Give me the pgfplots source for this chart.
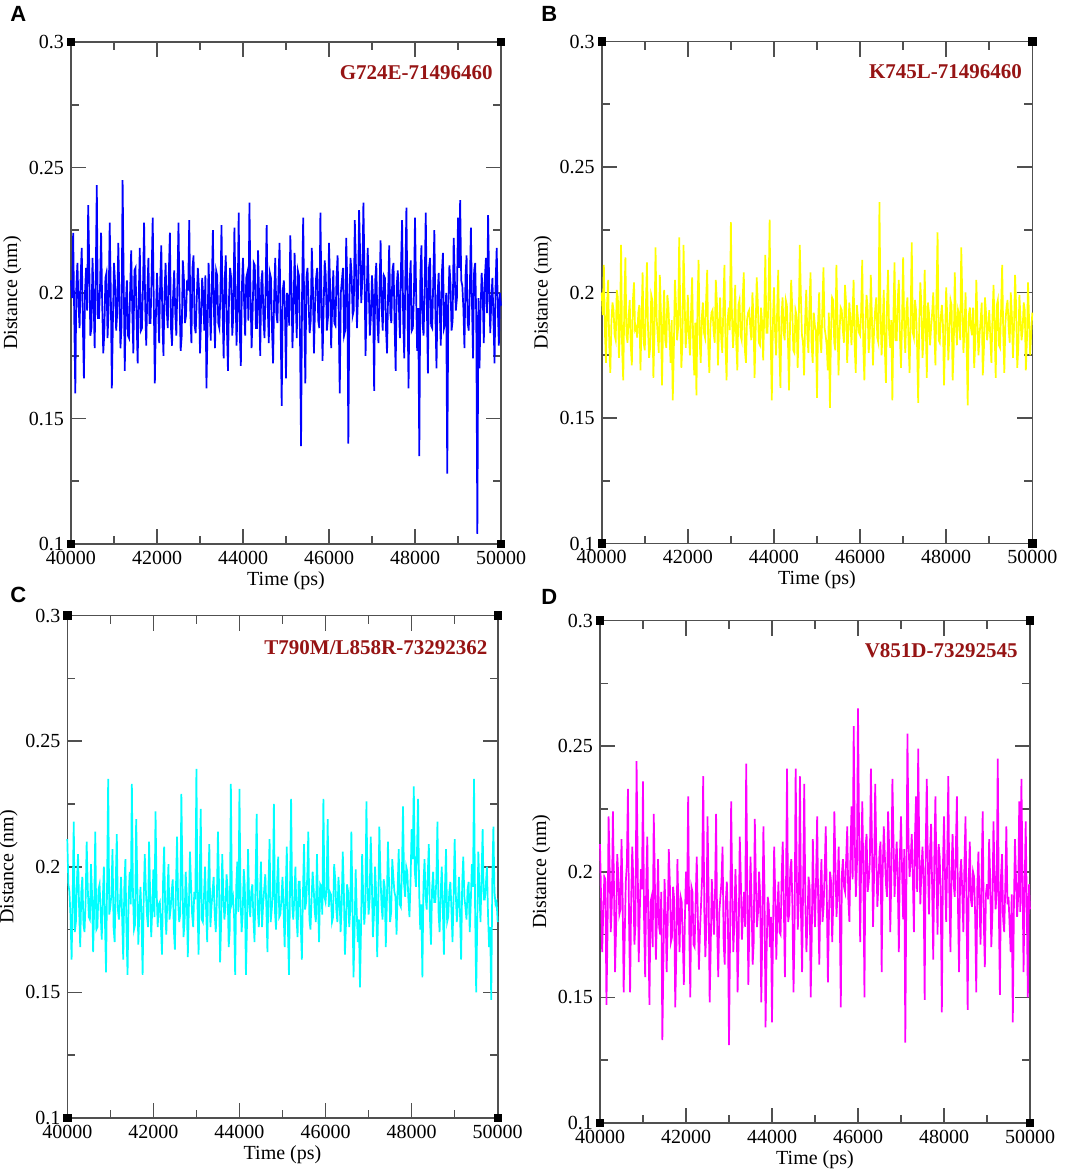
\documentclass[border=0pt]{standalone}
\usepackage{fontspec}
\setmainfont{Liberation Serif}
\newfontfamily\lsans{Liberation Sans}
\usepackage{pgfplots}
\usepackage{pgfplotstable}
\pgfplotsset{compat=1.18}
\definecolor{axgray}{RGB}{80,80,80}
\definecolor{annot}{RGB}{150,20,20}

\pgfplotstableread{
t a b c d
40000 0.205 0.200 0.211 0.211
40025 0.198 0.191 0.193 0.190
40050 0.224 0.211 0.190 0.168
40075 0.191 0.184 0.180 0.183
40100 0.160 0.172 0.163 0.198
40125 0.203 0.196 0.188 0.197
40150 0.212 0.205 0.218 0.147
40175 0.195 0.179 0.174 0.176
40200 0.186 0.168 0.178 0.222
40225 0.207 0.188 0.195 0.201
40250 0.218 0.196 0.205 0.176
40275 0.188 0.193 0.183 0.187
40300 0.166 0.183 0.168 0.224
40325 0.200 0.181 0.190 0.194
40350 0.210 0.201 0.196 0.160
40375 0.193 0.198 0.177 0.178
40400 0.235 0.174 0.174 0.207
40425 0.211 0.186 0.186 0.199
40450 0.183 0.219 0.210 0.183
40475 0.186 0.177 0.192 0.185
40500 0.214 0.165 0.180 0.213
40525 0.199 0.194 0.179 0.192
40550 0.178 0.214 0.201 0.152
40575 0.205 0.183 0.189 0.174
40600 0.243 0.180 0.166 0.196
40625 0.190 0.190 0.184 0.203
40650 0.190 0.197 0.214 0.233
40675 0.202 0.179 0.175 0.181
40700 0.224 0.171 0.176 0.152
40725 0.196 0.197 0.191 0.189
40750 0.176 0.204 0.193 0.210
40775 0.184 0.185 0.182 0.196
40800 0.206 0.186 0.171 0.171
40825 0.208 0.182 0.187 0.179
40850 0.182 0.192 0.200 0.244
40875 0.194 0.195 0.178 0.206
40900 0.228 0.169 0.158 0.164
40925 0.201 0.188 0.194 0.184
40950 0.162 0.208 0.235 0.201
40975 0.189 0.180 0.181 0.193
41000 0.212 0.177 0.184 0.236
41025 0.204 0.193 0.189 0.181
41050 0.185 0.212 0.207 0.158
41075 0.192 0.186 0.176 0.195
41100 0.220 0.174 0.170 0.214
41125 0.199 0.178 0.193 0.176
41150 0.178 0.199 0.213 0.147
41175 0.187 0.197 0.183 0.188
41200 0.245 0.166 0.179 0.190
41225 0.206 0.184 0.186 0.170
41250 0.169 0.218 0.196 0.223
41275 0.196 0.190 0.179 0.197
41300 0.205 0.183 0.163 0.165
41325 0.183 0.176 0.192 0.183
41350 0.182 0.207 0.203 0.205
41375 0.201 0.192 0.174 0.178
41400 0.217 0.163 0.157 0.175
41425 0.193 0.187 0.188 0.192
41450 0.176 0.201 0.198 0.133
41475 0.209 0.181 0.185 0.165
41500 0.210 0.178 0.233 0.197
41525 0.190 0.199 0.190 0.186
41550 0.172 0.194 0.175 0.160
41575 0.198 0.183 0.177 0.180
41600 0.218 0.172 0.219 0.209
41625 0.185 0.189 0.195 0.195
41650 0.186 0.157 0.169 0.172
41675 0.203 0.177 0.182 0.174
41700 0.228 0.205 0.192 0.194
41725 0.195 0.195 0.180 0.189
41750 0.179 0.181 0.157 0.146
41775 0.200 0.186 0.187 0.168
41800 0.214 0.222 0.205 0.205
41825 0.188 0.192 0.191 0.184
41850 0.188 0.170 0.181 0.168
41875 0.207 0.180 0.176 0.190
41900 0.230 0.219 0.210 0.188
41925 0.197 0.198 0.189 0.173
41950 0.164 0.178 0.172 0.155
41975 0.191 0.185 0.184 0.182
42000 0.208 0.199 0.199 0.200
42025 0.195 0.183 0.180 0.187
42050 0.180 0.175 0.222 0.230
42075 0.205 0.192 0.191 0.178
42100 0.219 0.206 0.176 0.150
42125 0.189 0.179 0.185 0.194
42150 0.175 0.167 0.186 0.192
42175 0.200 0.188 0.177 0.171
42200 0.212 0.159 0.165 0.170
42225 0.194 0.195 0.194 0.189
42250 0.186 0.213 0.208 0.206
42275 0.208 0.181 0.183 0.182
42300 0.224 0.172 0.173 0.161
42325 0.186 0.190 0.188 0.176
42350 0.179 0.196 0.201 0.187
42375 0.199 0.184 0.179 0.198
42400 0.209 0.182 0.183 0.238
42425 0.192 0.197 0.190 0.185
42450 0.183 0.209 0.195 0.166
42475 0.204 0.178 0.175 0.179
42500 0.228 0.168 0.167 0.222
42525 0.197 0.187 0.192 0.193
42550 0.177 0.192 0.212 0.148
42575 0.183 0.193 0.186 0.170
42600 0.213 0.184 0.178 0.197
42625 0.206 0.180 0.181 0.186
42650 0.188 0.205 0.229 0.175
42675 0.191 0.196 0.196 0.191
42700 0.205 0.171 0.172 0.223
42725 0.201 0.186 0.178 0.177
42750 0.229 0.198 0.198 0.158
42775 0.193 0.182 0.189 0.184
42800 0.180 0.176 0.164 0.190
42825 0.210 0.194 0.184 0.196
42850 0.215 0.211 0.206 0.210
42875 0.187 0.179 0.193 0.172
42900 0.184 0.165 0.181 0.163
42925 0.198 0.189 0.176 0.188
42950 0.210 0.194 0.190 0.196
42975 0.202 0.185 0.187 0.181
43000 0.176 0.228 0.239 0.131
43025 0.190 0.191 0.185 0.175
43050 0.206 0.178 0.165 0.228
43075 0.199 0.186 0.192 0.192
43100 0.185 0.203 0.223 0.168
43125 0.207 0.180 0.179 0.180
43150 0.162 0.169 0.178 0.201
43175 0.185 0.195 0.188 0.186
43200 0.212 0.197 0.200 0.152
43225 0.196 0.183 0.183 0.174
43250 0.181 0.181 0.170 0.214
43275 0.203 0.198 0.194 0.197
43300 0.225 0.208 0.209 0.173
43325 0.192 0.177 0.176 0.183
43350 0.178 0.172 0.184 0.192
43375 0.209 0.189 0.190 0.178
43400 0.207 0.192 0.196 0.243
43425 0.188 0.193 0.181 0.195
43450 0.186 0.186 0.174 0.155
43475 0.200 0.181 0.187 0.181
43500 0.227 0.200 0.214 0.206
43525 0.194 0.190 0.193 0.188
43550 0.174 0.166 0.162 0.163
43575 0.205 0.185 0.178 0.172
43600 0.215 0.206 0.205 0.221
43625 0.187 0.196 0.189 0.196
43650 0.169 0.180 0.179 0.178
43675 0.198 0.179 0.184 0.184
43700 0.210 0.194 0.197 0.200
43725 0.206 0.188 0.191 0.190
43750 0.183 0.173 0.168 0.148
43775 0.191 0.192 0.175 0.176
43800 0.226 0.215 0.233 0.218
43825 0.201 0.184 0.186 0.193
43850 0.179 0.184 0.188 0.138
43875 0.196 0.199 0.180 0.168
43900 0.232 0.229 0.157 0.190
43925 0.184 0.182 0.192 0.187
43950 0.171 0.157 0.202 0.170
43975 0.203 0.187 0.182 0.182
44000 0.214 0.202 0.231 0.140
44025 0.197 0.185 0.188 0.179
44050 0.183 0.175 0.174 0.210
44075 0.206 0.193 0.181 0.191
44100 0.208 0.209 0.199 0.165
44125 0.189 0.178 0.192 0.184
44150 0.236 0.162 0.157 0.196
44175 0.200 0.190 0.177 0.176
44200 0.178 0.198 0.207 0.175
44225 0.193 0.184 0.186 0.198
44250 0.212 0.181 0.180 0.212
44275 0.211 0.197 0.190 0.187
44300 0.186 0.195 0.193 0.158
44325 0.186 0.181 0.179 0.193
44350 0.217 0.161 0.170 0.241
44375 0.198 0.188 0.195 0.180
44400 0.175 0.205 0.221 0.183
44425 0.204 0.194 0.183 0.201
44450 0.209 0.177 0.176 0.205
44475 0.190 0.176 0.188 0.186
44500 0.182 0.193 0.202 0.152
44525 0.202 0.191 0.176 0.177
44550 0.227 0.170 0.185 0.241
44575 0.195 0.186 0.191 0.199
44600 0.180 0.219 0.197 0.177
44625 0.208 0.199 0.184 0.190
44650 0.206 0.183 0.166 0.238
44675 0.185 0.180 0.193 0.183
44700 0.172 0.167 0.211 0.160
44725 0.199 0.189 0.178 0.196
44750 0.214 0.201 0.183 0.235
44775 0.192 0.183 0.189 0.188
44800 0.188 0.176 0.225 0.168
44825 0.205 0.195 0.182 0.180
44850 0.220 0.208 0.175 0.198
44875 0.188 0.179 0.194 0.194
44900 0.155 0.172 0.204 0.150
44925 0.201 0.192 0.180 0.175
44950 0.205 0.187 0.181 0.213
44975 0.194 0.185 0.187 0.189
45000 0.166 0.158 0.196 0.178
45025 0.200 0.188 0.183 0.197
45050 0.197 0.200 0.168 0.222
45075 0.187 0.181 0.190 0.186
45100 0.223 0.176 0.208 0.163
45125 0.205 0.194 0.176 0.192
45150 0.178 0.210 0.157 0.205
45175 0.193 0.186 0.192 0.180
45200 0.216 0.183 0.227 0.186
45225 0.198 0.179 0.185 0.200
45250 0.182 0.169 0.179 0.218
45275 0.209 0.192 0.188 0.190
45300 0.207 0.154 0.200 0.156
45325 0.184 0.184 0.180 0.183
45350 0.139 0.198 0.172 0.200
45375 0.202 0.197 0.194 0.196
45400 0.230 0.180 0.194 0.172
45425 0.191 0.177 0.177 0.188
45450 0.164 0.211 0.163 0.224
45475 0.206 0.190 0.189 0.203
45500 0.210 0.167 0.209 0.182
45525 0.196 0.185 0.183 0.192
45550 0.184 0.194 0.186 0.210
45575 0.189 0.193 0.196 0.185
45600 0.218 0.185 0.214 0.146
45625 0.203 0.180 0.179 0.199
45650 0.176 0.203 0.175 0.205
45675 0.195 0.196 0.187 0.194
45700 0.206 0.172 0.198 0.192
45725 0.210 0.183 0.191 0.205
45750 0.189 0.196 0.182 0.218
45775 0.186 0.189 0.178 0.189
45800 0.232 0.179 0.205 0.180
45825 0.199 0.191 0.186 0.208
45850 0.173 0.205 0.170 0.226
45875 0.194 0.178 0.193 0.197
45900 0.213 0.168 0.192 0.258
45925 0.207 0.195 0.181 0.212
45950 0.185 0.190 0.227 0.190
45975 0.190 0.184 0.188 0.203
46000 0.220 0.183 0.186 0.265
46025 0.203 0.192 0.192 0.215
46050 0.178 0.213 0.219 0.172
46075 0.196 0.179 0.184 0.206
46100 0.209 0.165 0.190 0.228
46125 0.188 0.187 0.189 0.198
46150 0.187 0.199 0.178 0.150
46175 0.206 0.194 0.180 0.210
46200 0.215 0.176 0.201 0.215
46225 0.192 0.182 0.195 0.192
46250 0.160 0.207 0.183 0.196
46275 0.200 0.190 0.178 0.204
46300 0.205 0.171 0.196 0.241
46325 0.210 0.185 0.188 0.211
46350 0.183 0.193 0.174 0.178
46375 0.185 0.198 0.185 0.200
46400 0.222 0.182 0.206 0.235
46425 0.204 0.180 0.191 0.208
46450 0.140 0.236 0.165 0.186
46475 0.197 0.193 0.177 0.195
46500 0.214 0.175 0.193 0.208
46525 0.208 0.186 0.190 0.212
46550 0.191 0.201 0.176 0.160
46575 0.193 0.178 0.183 0.201
46600 0.229 0.164 0.214 0.218
46625 0.212 0.195 0.186 0.206
46650 0.186 0.209 0.156 0.195
46675 0.199 0.184 0.175 0.190
46700 0.233 0.178 0.199 0.224
46725 0.215 0.189 0.182 0.209
46750 0.196 0.157 0.170 0.176
46775 0.205 0.191 0.179 0.198
46800 0.236 0.212 0.152 0.237
46825 0.209 0.181 0.176 0.213
46850 0.175 0.181 0.205 0.190
46875 0.196 0.197 0.188 0.203
46900 0.218 0.205 0.177 0.212
46925 0.202 0.183 0.184 0.196
46950 0.183 0.170 0.226 0.168
46975 0.191 0.188 0.193 0.207
47000 0.207 0.214 0.181 0.222
47025 0.198 0.186 0.187 0.200
47050 0.161 0.176 0.212 0.181
47075 0.205 0.193 0.195 0.209
47100 0.212 0.198 0.172 0.132
47125 0.189 0.180 0.181 0.194
47150 0.180 0.168 0.200 0.255
47175 0.201 0.191 0.190 0.212
47200 0.221 0.220 0.164 0.198
47225 0.194 0.184 0.184 0.205
47250 0.185 0.182 0.216 0.215
47275 0.207 0.197 0.197 0.198
47300 0.206 0.193 0.185 0.176
47325 0.186 0.178 0.179 0.214
47350 0.176 0.156 0.195 0.230
47375 0.200 0.189 0.192 0.192
47400 0.219 0.204 0.168 0.249
47425 0.192 0.194 0.186 0.207
47450 0.188 0.174 0.210 0.187
47475 0.209 0.182 0.194 0.201
47500 0.212 0.209 0.178 0.210
47525 0.188 0.188 0.182 0.196
47550 0.169 0.166 0.203 0.149
47575 0.203 0.196 0.196 0.210
47600 0.209 0.192 0.190 0.237
47625 0.195 0.179 0.188 0.203
47650 0.182 0.186 0.173 0.183
47675 0.211 0.192 0.191 0.208
47700 0.229 0.200 0.207 0.219
47725 0.190 0.185 0.185 0.193
47750 0.174 0.171 0.184 0.165
47775 0.206 0.199 0.198 0.206
47800 0.234 0.224 0.224 0.230
47825 0.197 0.181 0.193 0.199
47850 0.162 0.180 0.188 0.175
47875 0.204 0.190 0.200 0.211
47900 0.213 0.195 0.198 0.206
47925 0.185 0.187 0.187 0.188
47950 0.186 0.163 0.180 0.144
47975 0.199 0.183 0.194 0.202
48000 0.230 0.202 0.215 0.222
48025 0.201 0.190 0.203 0.197
48050 0.177 0.173 0.232 0.180
48075 0.194 0.184 0.198 0.205
48100 0.135 0.197 0.192 0.238
48125 0.207 0.195 0.206 0.190
48150 0.219 0.165 0.227 0.168
48175 0.188 0.178 0.190 0.201
48200 0.183 0.208 0.175 0.215
48225 0.203 0.188 0.185 0.195
48250 0.232 0.179 0.156 0.190
48275 0.196 0.193 0.193 0.209
48300 0.168 0.191 0.203 0.230
48325 0.210 0.181 0.188 0.186
48350 0.214 0.218 0.183 0.160
48375 0.187 0.197 0.197 0.199
48400 0.186 0.176 0.209 0.205
48425 0.205 0.185 0.180 0.192
48450 0.225 0.200 0.169 0.176
48475 0.191 0.179 0.191 0.203
48500 0.170 0.155 0.198 0.222
48525 0.199 0.191 0.186 0.184
48550 0.208 0.194 0.186 0.145
48575 0.193 0.186 0.195 0.196
48600 0.179 0.183 0.218 0.212
48625 0.208 0.194 0.182 0.189
48650 0.216 0.170 0.174 0.186
48675 0.186 0.180 0.189 0.200
48700 0.188 0.205 0.200 0.198
48725 0.200 0.189 0.184 0.182
48750 0.128 0.175 0.165 0.152
48775 0.195 0.183 0.192 0.194
48800 0.211 0.189 0.207 0.208
48825 0.204 0.196 0.178 0.187
48850 0.185 0.167 0.180 0.171
48875 0.189 0.177 0.190 0.198
48900 0.222 0.198 0.194 0.224
48925 0.206 0.192 0.183 0.180
48950 0.193 0.181 0.170 0.162
48975 0.198 0.186 0.188 0.191
49000 0.230 0.193 0.211 0.195
49025 0.210 0.182 0.190 0.189
49050 0.237 0.172 0.178 0.213
49075 0.205 0.190 0.185 0.196
49100 0.203 0.203 0.196 0.170
49125 0.194 0.185 0.181 0.183
49150 0.178 0.166 0.163 0.220
49175 0.207 0.195 0.193 0.200
49200 0.215 0.197 0.204 0.185
49225 0.188 0.179 0.188 0.192
49250 0.185 0.178 0.184 0.245
49275 0.201 0.193 0.179 0.186
49300 0.226 0.211 0.191 0.151
49325 0.196 0.184 0.194 0.198
49350 0.174 0.168 0.174 0.207
49375 0.209 0.188 0.186 0.181
49400 0.212 0.194 0.201 0.176
49425 0.190 0.197 0.192 0.194
49450 0.104 0.186 0.235 0.218
49475 0.198 0.180 0.183 0.187
49500 0.170 0.200 0.150 0.190
49525 0.193 0.191 0.178 0.179
49550 0.208 0.174 0.206 0.168
49575 0.200 0.186 0.190 0.191
49600 0.180 0.207 0.178 0.140
49625 0.206 0.194 0.196 0.185
49650 0.214 0.170 0.215 0.213
49675 0.192 0.178 0.187 0.197
49700 0.231 0.199 0.187 0.182
49725 0.203 0.190 0.193 0.190
49750 0.184 0.181 0.200 0.228
49775 0.197 0.185 0.181 0.184
49800 0.206 0.196 0.168 0.237
49825 0.189 0.193 0.176 0.200
49850 0.172 0.169 0.147 0.160
49875 0.204 0.181 0.195 0.193
49900 0.218 0.204 0.216 0.220
49925 0.195 0.189 0.190 0.186
49950 0.179 0.175 0.185 0.150
49975 0.200 0.184 0.186 0.195
50000 0.195 0.192 0.178 0.185
}\dist

\pgfplotsset{panel/.style={
  scale only axis, anchor=south west,
  xmin=40000, xmax=50000, ymin=0.1, ymax=0.3,
  xtick={40000,42000,44000,46000,48000,50000},
  ytick={0.1,0.15,0.2,0.25,0.3},
  minor x tick num=1, minor y tick num=1,
  tick align=inside, tick pos=both,
  xticklabel pos=lower, yticklabel pos=left,
  major tick length=7.5bp, minor tick length=4bp,
  axis line style={draw=axgray, line width=0.8pt},
  tick style={draw=axgray, line width=0.8pt},
  scaled ticks=false,
  xticklabel style={/pgf/number format/1000 sep={}},
  yticklabel style={/pgf/number format/fixed, /pgf/number format/precision=2},
  /pgf/number format/assume math mode=true,
  tick label style={font=\fontsize{10bp}{12bp}\selectfont},
  label style={font=\fontsize{10bp}{12bp}\selectfont},
  xlabel={Time (ps)}, ylabel={Distance (nm)},
  xlabel style={yshift=3.5bp}, ylabel style={yshift=-3bp},
  clip=false,
}}
\newcommand{\corners}{\addplot[only marks, mark=square*, mark size=1.9bp, black] coordinates {(40000,0.1) (50000,0.1) (40000,0.3) (50000,0.3)};}
\tikzset{annot/.style={anchor=north east, inner sep=0pt, text=annot, font=\fontsize{10.5bp}{12bp}\selectfont\bfseries},
  plabel/.style={anchor=north west, inner sep=0pt, font=\lsans\bfseries\fontsize{11bp}{12bp}\selectfont}}

\begin{document}
\begin{tikzpicture}
\path[use as bounding box] (0,0) rectangle (532.5bp,-585.5bp);

\begin{axis}[panel, at={(35.5bp,-272bp)}, width=215bp, height=251bp]
\addplot[color={rgb,255:red,0;green,0;blue,255}, line width=0.85bp] table[x=t, y=a] {\dist};
\corners
\node[annot, xshift=-4bp, yshift=-11.5bp] at (rel axis cs:1,1) {G724E-71496460};
\end{axis}

\begin{axis}[panel, at={(300.85bp,-271.75bp)}, width=215.3bp, height=251bp]
\addplot[color={rgb,255:red,255;green,255;blue,0}, line width=0.85bp] table[x=t, y=b] {\dist};
\corners
\node[annot, xshift=-5bp, yshift=-11.5bp] at (rel axis cs:1,1) {K745L-71496460};
\end{axis}

\begin{axis}[panel, at={(33.65bp,-559bp)}, width=215.2bp, height=251.25bp]
\addplot[color={rgb,255:red,0;green,255;blue,255}, line width=0.85bp] table[x=t, y=c] {\dist};
\corners
\node[annot, xshift=-5bp, yshift=-12.5bp] at (rel axis cs:1,1) {T790M/L858R-73292362};
\end{axis}

\begin{axis}[panel, at={(300bp,-561.45bp)}, width=215bp, height=251.2bp]
\addplot[color={rgb,255:red,255;green,0;blue,255}, line width=0.85bp] table[x=t, y=d] {\dist};
\corners
\node[annot, xshift=-6bp, yshift=-11.5bp] at (rel axis cs:1,1) {V851D-73292545};
\end{axis}

\node[plabel] at (5bp,-3bp) {A};
\node[plabel] at (270.5bp,-3bp) {B};
\node[plabel] at (5bp,-293.5bp) {C};
\node[plabel] at (270.5bp,-294.5bp) {D};
\end{tikzpicture}
\end{document}
